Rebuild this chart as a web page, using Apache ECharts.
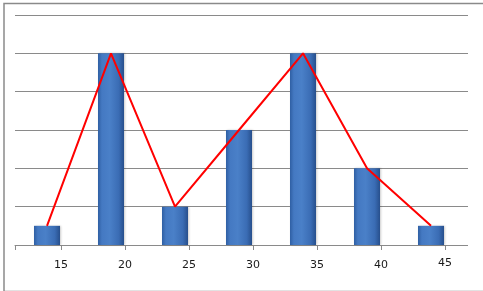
<!DOCTYPE html>
<html>
<head>
<meta charset="utf-8">
<script src="https://cdn.jsdelivr.net/npm/echarts@6/dist/echarts.min.js"></script>
<style>
html,body{margin:0;padding:0;background:#fff;}
#c{width:483px;height:291px;}
</style>
</head>
<body>
<div id="c"></div>
<script>
const categories = ['15', '20', '25', '30', '35', '40', '45'];
const barValues = [0.5, 5, 1, 3, 5, 2, 0.5];
const lineValues = [0.5, 5, 1, 3, 5, 2, 0.5];
const yMin = 0, yMax = 6, yStep = 1;

const chart = echarts.init(document.getElementById('c'), null, {renderer: 'canvas'});
const gray = '#8a8a8a';
const font = 'DejaVu Sans';

chart.setOption({
  animation: false,
  backgroundColor: '#fff',
  graphic: [{
    type: 'rect', left: 1.5, top: 1, z: 100,
    shape: {width: 480, height: 288},
    style: {fill: 'none', stroke: gray, lineWidth: 1.5}
  }],
  grid: [
    {left: 15, right: 20, top: 15, bottom: 46},
    {left: 29, right: 6, top: 15, bottom: 46},
    {left: 15, right: 15, top: 15, bottom: 46}
  ],
  xAxis: [
    {
      type: 'category', gridIndex: 0, data: categories, boundaryGap: true,
      axisLine: {show: true, lineStyle: {color: gray, width: 1}},
      axisTick: {show: false},
      axisLabel: {show: false},
      splitLine: {show: false}
    },
    {
      type: 'category', gridIndex: 1, data: categories, boundaryGap: true,
      axisLine: {show: false},
      axisTick: {show: true, alignWithLabel: true, length: 5, lineStyle: {color: gray}},
      axisLabel: {
        show: true, margin: 15, color: '#1a1a1a', fontFamily: font, fontSize: 11,
        formatter: function (v) { return v === '45' ? '{h|' + v + '}' : v; },
        rich: {h: {lineHeight: 6, fontFamily: font, fontSize: 11, color: '#1a1a1a'}}
      },
      splitLine: {show: false}
    },
    {
      type: 'value', gridIndex: 2, min: 0, max: 1,
      axisLine: {show: false},
      axisTick: {show: true, length: 5, customValues: [0], lineStyle: {color: gray}},
      axisLabel: {show: false},
      splitLine: {show: false}
    }
  ],
  yAxis: [
    {type: 'value', gridIndex: 0, min: yMin, max: yMax, interval: yStep, show: false},
    {type: 'value', gridIndex: 1, min: yMin, max: yMax, interval: yStep, show: false},
    {
      type: 'value', gridIndex: 2, min: yMin, max: yMax, interval: yStep,
      axisLine: {show: false}, axisTick: {show: false}, axisLabel: {show: false},
      splitLine: {show: true, lineStyle: {color: gray, width: 1}}
    }
  ],
  series: [
    {
      type: 'bar', xAxisIndex: 0, yAxisIndex: 0, data: barValues, barWidth: 26, z: 3,
      itemStyle: {
        color: new echarts.graphic.LinearGradient(0, 0, 1, 0, [
          {offset: 0, color: '#2f5fa3'},
          {offset: 0.15, color: '#4479c2'},
          {offset: 0.45, color: '#4a80c8'},
          {offset: 0.8, color: '#3a6cb4'},
          {offset: 1, color: '#274f8c'}
        ]),
        shadowColor: 'rgba(0,0,0,0.2)', shadowBlur: 2, shadowOffsetX: 1, shadowOffsetY: 0
      }
    },
    {
      type: 'line', xAxisIndex: 0, yAxisIndex: 0, data: lineValues, z: 5,
      symbol: 'none', smooth: false,
      lineStyle: {color: '#ff0000', width: 2}
    }
  ]
});
</script>
</body>
</html>
